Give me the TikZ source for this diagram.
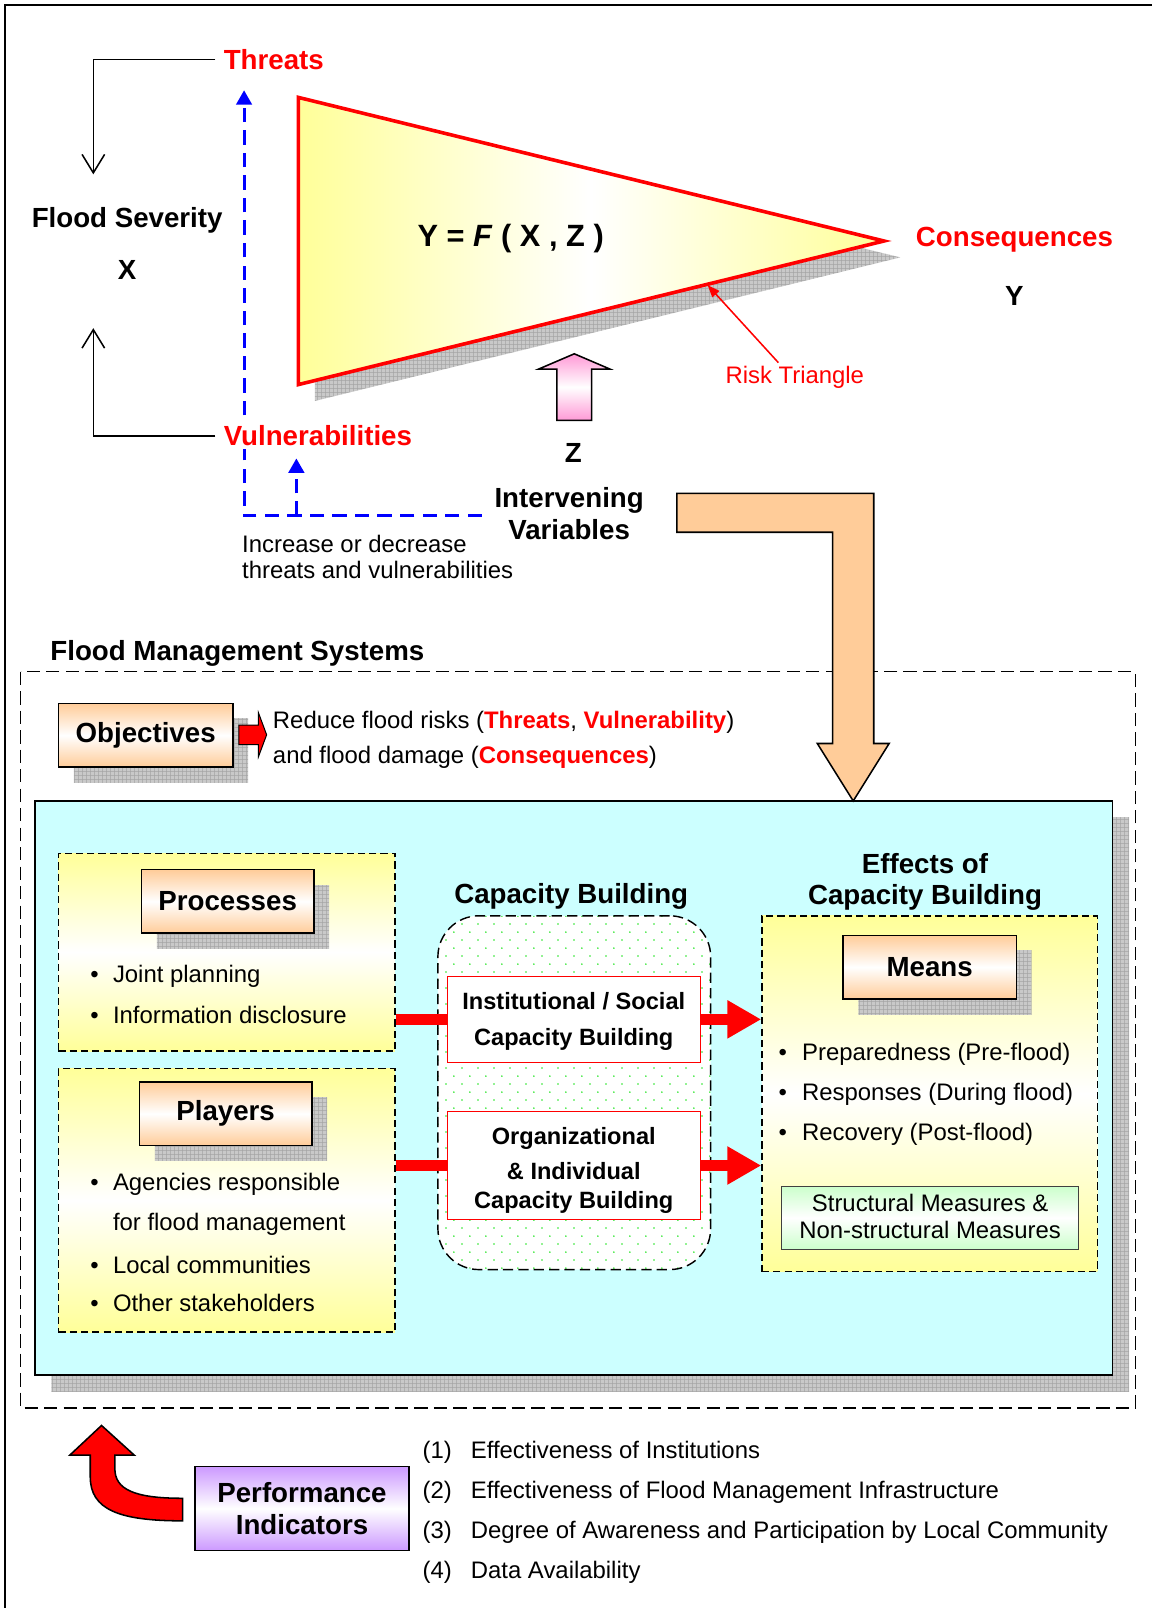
\documentclass[tikz,border=0pt]{standalone}
\usepackage{fontspec}
\setmainfont{Liberation Sans}
\usetikzlibrary{arrows.meta, shadows, patterns.meta, calc}

\definecolor{peach}{RGB}{255,204,153}
\definecolor{lyellow}{RGB}{255,255,153}
\definecolor{lcyan}{RGB}{204,255,255}
\definecolor{lgreen}{RGB}{204,255,204}
\definecolor{lpurple}{RGB}{204,153,255}
\definecolor{lpink}{RGB}{255,153,214}
\definecolor{dotgreen}{RGB}{40,230,40}
\definecolor{pureblue}{RGB}{0,0,255}
\definecolor{purered}{RGB}{255,0,0}

% grey grid used for drop shadows
\tikzdeclarepattern{
  name=shadegrid, type=colored,
  bounding box={(0pt,0pt) and (4.3pt,4.3pt)},
  tile size={(4.3pt,4.3pt)},
  code={
    \fill[gray!42] (0pt,0pt) rectangle (4.3pt,4.3pt);
    \fill[gray!72] (0pt,0pt) rectangle (4.3pt,0.8pt);
    \fill[gray!72] (0pt,0pt) rectangle (0.8pt,4.3pt);
  }
}
% sparse green dots inside the capacity building frame
\tikzdeclarepattern{
  name=greendots, type=colored,
  bounding box={(0pt,0pt) and (16pt,16pt)},
  tile size={(16pt,16pt)},
  code={
    \fill[dotgreen] (4pt,4pt) circle (0.9pt);
    \fill[dotgreen] (12pt,12pt) circle (0.9pt);
  }
}

\tikzset{
  fbig/.style={font=\fontsize{27}{31}\selectfont\bfseries},
  freg/.style={font=\fontsize{23.3}{26}\selectfont},
  fmed/.style={font=\fontsize{23}{36}\selectfont\bfseries},
  gridshadow/.style={general shadow={shadow xshift=#1, shadow yshift=-#1, pattern=shadegrid}},
  labelbox/.style={draw, line width=1.5pt, minimum width=168pt, minimum height=62pt,
    top color=peach, bottom color=peach, middle color=white, fbig, gridshadow=15pt},
  yellowbox/.style={draw, dashed, dash pattern=on 7pt off 4pt, line width=1.4pt,
    top color=lyellow, bottom color=lyellow, middle color=white},
  capbox/.style={draw=purered, line width=1pt, fill=white, align=center},
  bracket/.style={line width=1.5pt, -{Straight Barb[length=18pt,width=22pt]}},
  blueline/.style={draw=pureblue, line width=3pt, dash pattern=on 14pt off 8pt,
    -{Triangle[length=14pt,width=15pt]}},
  redbar/.style={draw=purered, line width=11pt},
  txt/.style={inner sep=0pt, anchor=west},
}

\begin{document}
\begin{tikzpicture}[x=1pt, y=-1pt, line join=miter]
\useasboundingbox (0,0) rectangle (1123,1568);

% page frame
\draw[line width=1.5pt] (5,1568) -- (5,5) -- (1123,5);

% ---------------- risk triangle ----------------
\coordinate (tA) at (291,95);
\coordinate (tB) at (862,235);
\coordinate (tC) at (291,375);
\fill[pattern=shadegrid] ($(tA)+(16,16)$) -- ($(tB)+(16,16)$) -- ($(tC)+(16,16)$) -- cycle;
\draw[purered, line width=3.5pt, left color=lyellow, right color=lyellow, middle color=white]
  (tA) -- (tB) -- (tC) -- cycle;
\node[font=\fontsize{30}{34}\selectfont\bfseries] (eq) at (498,233) {Y = \textit{F} ( X , Z )};

% blue feedback lines
\coordinate (bend) at (470,503);
\coordinate (bc) at (238,503);
\coordinate (bj) at (289,503);
\coordinate (tT) at (238,88);
\coordinate (vT) at (289,447);
\draw[blueline] (bend) -- (bc) -- (tT);
\draw[blueline] (bj) -- (vT);

% threats / vulnerabilities / severity
\node[fbig, text=purered, anchor=west, inner sep=2pt] (threats) at (216,58) {Threats};
\node[fbig, text=purered, anchor=west, inner sep=3pt, fill=white] (vuln) at (215,425) {Vulnerabilities};
\node[fbig] (sev) at (124,215) {Flood Severity};
\node[fbig] (xvar) at (124,263) {X};
\coordinate (sevtop) at (91,170);
\coordinate (sevbot) at (91,320);
\draw[bracket, shorten <=6pt] (threats.west) -| (sevtop);
\draw[bracket, shorten <=5pt] (vuln.west) -| (sevbot);

% consequences
\node[fbig, text=purered, anchor=west, inner sep=0pt] (cons) at (893,234) {Consequences};
\node[fbig] (yvar) at (989,289) {Y};
\node[freg, text=purered] (risk) at (775,368) {Risk Triangle};
\coordinate (rtip) at (690,278);
\draw[purered, line width=1.5pt, -{Triangle[length=12pt,width=9pt]}] ($(risk.north)+(-16,0)$) -- (rtip);

% intervening variables
\draw[line width=1.5pt, top color=lpink, bottom color=lpink, middle color=white]
  (543,410) -- (543,360) -- (525,360) -- (560,345) -- (595,360) -- (577,360) -- (577,410) -- cycle;
\node[fbig] (zvar) at (559,442) {Z};
\node[fbig, align=center] (interv) at (555,501) {Intervening\\Variables};
\node[freg, txt, align=left] (incr) at (236,543) {Increase or decrease\\threats and vulnerabilities};

% ---------------- flood management systems ----------------
\node[fbig, txt] (fms) at (49,637) {Flood Management Systems};
\draw[line width=1.4pt, dash pattern=on 13pt off 6pt] (20,655) rectangle (1107,1373);

\node[labelbox, minimum width=170pt] (obj) at (142,717) {Objectives};
\draw[fill=purered, line width=1pt]
  (233,707) -- (252,707) -- (252,695) -- (260,716.5) -- (252,738) -- (252,726) -- (233,726) -- cycle;
\node[freg, txt] (obj1) at (266,704) {Reduce flood risks ({\color{purered}\bfseries Threats}, {\color{purered}\bfseries Vulnerability})};
\node[freg, txt] (obj2) at (266,738) {and flood damage ({\color{purered}\bfseries Consequences})};

% main system box
\node[draw, line width=1.5pt, fill=lcyan, minimum width=1051pt, minimum height=560pt,
  inner sep=0pt, gridshadow=16pt] (sysbox) at (559.5,1061) {};

% big arrow from the risk part into the system
\draw[line width=1.5pt, fill=peach]
  (660,481) -- (852,481) -- (852,725) -- (867,725) -- (832,781) -- (797,725)
  -- (812,725) -- (812,519) -- (660,519) -- cycle;

% processes
\node[yellowbox, minimum width=328pt, minimum height=193pt, inner sep=0pt] (procbox) at (221,928.5) {};
\node[labelbox] (procL) at (222,879) {Processes};
\node[freg, txt] (p1) at (88,952) {\makebox[22pt][l]{\textbullet}Joint planning};
\node[freg, txt] (p2) at (88,990) {\makebox[22pt][l]{\textbullet}Information disclosure};

% players
\node[yellowbox, minimum width=328pt, minimum height=257pt, inner sep=0pt] (playbox) at (221,1170.5) {};
\node[labelbox] (playL) at (220,1086) {Players};
\node[freg, txt] (q1) at (88,1155) {\makebox[22pt][l]{\textbullet}Agencies responsible};
\node[freg, txt] (q2) at (110,1194) {for flood management};
\node[freg, txt] (q3) at (88,1233) {\makebox[22pt][l]{\textbullet}Local communities};
\node[freg, txt] (q4) at (88,1271) {\makebox[22pt][l]{\textbullet}Other stakeholders};

% capacity building
\node[fbig] (cbt) at (557,874) {Capacity Building};
\node[draw, line width=1.4pt, dash pattern=on 10pt off 5pt, rounded corners=40pt,
  preaction={fill=white}, pattern=greendots,
  minimum width=266pt, minimum height=345pt, inner sep=0pt] (cbframe) at (560,1065.5) {};
\node[capbox, minimum width=247pt, minimum height=84pt, inner sep=0pt] (inst) at (559.5,994) {};
\node[fmed, align=center, inner sep=0pt] (insttxt) at (559.5,996) {Institutional / Social\\Capacity Building};
\node[capbox, minimum width=247pt, minimum height=105pt, inner sep=0pt] (org) at (559.5,1136.5) {};
\node[font=\fontsize{23}{32}\selectfont\bfseries, align=center, inner sep=0pt] (orgtxt) at (559.5,1141.5)
  {Organizational\\[2pt]\& Individual\\[-4pt]Capacity Building};

% effects of capacity building
\node[fbig, align=center] (eff) at (902,860) {Effects of\\Capacity Building};
\node[yellowbox, minimum width=327pt, minimum height=347pt, inner sep=0pt] (meansbox) at (906.5,1066.5) {};
\node[labelbox, minimum width=169pt] (meansL) at (906.5,943) {Means};
\node[freg, txt] (m1) at (759,1028) {\makebox[23pt][l]{\textbullet}Preparedness (Pre-flood)};
\node[freg, txt] (m2) at (759,1067) {\makebox[23pt][l]{\textbullet}Responses (During flood)};
\node[freg, txt] (m3) at (759,1106) {\makebox[23pt][l]{\textbullet}Recovery (Post-flood)};
\node[draw=gray!50!black, line width=1pt, top color=lgreen, bottom color=lgreen, middle color=white,
  minimum width=290pt, minimum height=61pt, inner sep=0pt] (struct) at (907,1187.5) {};
\node[freg, align=center, inner sep=0pt] (structtxt) at (907,1186)
  {Structural Measures \&\\Non-structural Measures};

% red flows
\draw[redbar] (procbox.east |- inst.west) -- (inst.west);
\draw[redbar] (playbox.east |- org.west) -- (org.west);
\draw[redbar, -{Triangle[length=33pt,width=35pt]}] (inst.east) -- (inst.east -| meansbox.west);
\draw[redbar, -{Triangle[length=33pt,width=35pt]}] (org.east) -- (org.east -| meansbox.west);

% ---------------- performance indicators ----------------
\node[draw, line width=1.5pt, top color=lpurple, bottom color=lpurple, middle color=white,
  minimum width=209pt, minimum height=82pt, inner sep=0pt, align=center,
  font=\fontsize{27}{32}\selectfont\bfseries] (perf) at (294.5,1471) {Performance\\Indicators};
\draw[fill=purered, line width=1.5pt]
  (178,1483) .. controls (116,1483) and (88,1472) .. (88,1440) -- (88,1419)
  -- (68,1419) -- (99,1390) -- (131,1419) -- (112,1419) -- (112,1432)
  .. controls (112,1452) and (130,1461) .. (178,1461) -- cycle;
\node[freg, txt] (i1) at (412,1416) {\makebox[47pt][l]{(1)}Effectiveness of Institutions};
\node[freg, txt] (i2) at (412,1455) {\makebox[47pt][l]{(2)}Effectiveness of Flood Management Infrastructure};
\node[freg, txt] (i3) at (412,1494) {\makebox[47pt][l]{(3)}Degree of Awareness and Participation by Local Community};
\node[freg, txt] (i4) at (412,1533) {\makebox[47pt][l]{(4)}Data Availability};
\end{tikzpicture}
\end{document}
